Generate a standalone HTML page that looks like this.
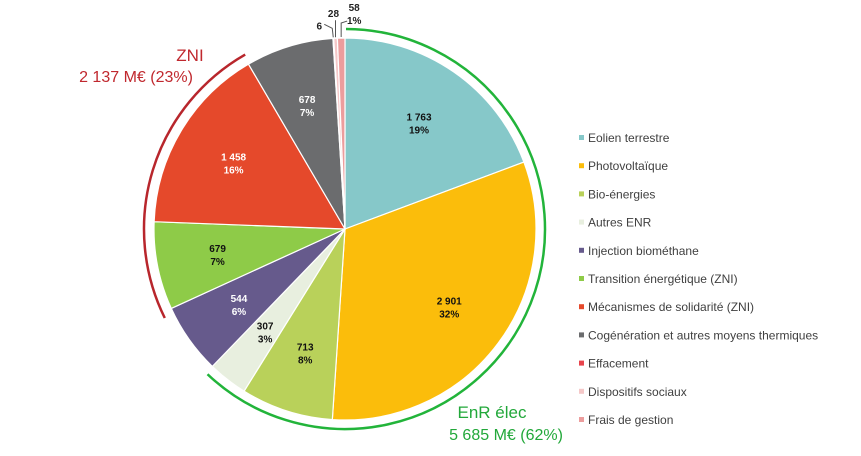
<!DOCTYPE html>
<html><head><meta charset="utf-8">
<style>
body{margin:0;background:#fff;}
svg{display:block;font-family:"Liberation Sans",Arial,sans-serif;}
.lbl{font-size:10px;font-weight:bold;text-anchor:middle;}
.leg{font-size:12px;fill:#404040;}
</style></head>
<body>
<svg id="chart" width="861" height="456" viewBox="0 0 861 456">
<g id="slices"></g>
<g id="labels"></g>
<g id="legend"></g>
<path id="enrArc" fill="none" stroke="#22b43a" stroke-width="2.5"/>
<path id="zniArc" fill="none" stroke="#b8262c" stroke-width="2.5"/>
<text x="190" y="61" font-size="17" fill="#c0282e" text-anchor="middle">ZNI</text>
<text x="136" y="82" font-size="16" fill="#c0282e" text-anchor="middle">2 137 M€ (23%)</text>
<text x="492" y="418" font-size="17" fill="#22a83a" text-anchor="middle">EnR  élec</text>
<text x="506" y="440" font-size="16" fill="#22a83a" text-anchor="middle">5 685 M€ (62%)</text>
</svg>
<script>
const categories=["Eolien terrestre","Photovoltaïque","Bio-énergies","Autres ENR","Injection biométhane","Transition énergétique (ZNI)","Mécanismes de solidarité (ZNI)","Cogénération et autres moyens thermiques","Effacement","Dispositifs sociaux","Frais de gestion"];
const values=[1763,2901,713,307,544,679,1458,678,6,28,58];
const percents=["19%","32%","8%","3%","6%","7%","16%","7%","","","1%"];
const valueLabels=["1 763","2 901","713","307","544","679","1 458","678","6","28","58"];
const colors=["#86c8c9","#fbbd0b","#b9d15a","#e8efdf","#665a8c","#8ecb48","#e5492b","#6b6c6e","#e8444c","#f5c8c8","#ec9d9d"];
const textColors=["#111","#111","#111","#111","#fff","#111","#fff","#fff","#111","#111","#111"];
const enrGroup=[0,3];
const zniGroup=[5,6];

const NS="http://www.w3.org/2000/svg";
const cx=345,cy=229,R=191;
const total=values.reduce((a,b)=>a+b,0);
function ang(v){return v/total*2*Math.PI;}
function pt(a,r){return [cx+r*Math.sin(a),cy-r*Math.cos(a)];}
function arcPath(a0,a1,r){const p0=pt(a0,r),p1=pt(a1,r);return `M${p0[0]},${p0[1]} A${r},${r} 0 ${a1-a0>Math.PI?1:0} 1 ${p1[0]},${p1[1]}`;}
const starts=[];let acc=0;
values.forEach(v=>{starts.push(acc);acc+=v;});
const sg=document.getElementById('slices'),lg=document.getElementById('labels'),leg=document.getElementById('legend');
const smallOffs={8:[-14,-8],9:[-2,-20],10:[13,-26]};
values.forEach((v,i)=>{
  const a0=ang(starts[i]),a1=ang(starts[i]+v);
  const p0=pt(a0,R),p1=pt(a1,R);
  const p=document.createElementNS(NS,'path');
  p.setAttribute('d',`M${cx},${cy} L${p0[0]},${p0[1]} A${R},${R} 0 ${a1-a0>Math.PI?1:0} 1 ${p1[0]},${p1[1]} Z`);
  p.setAttribute('fill',colors[i]);p.setAttribute('stroke','#fff');p.setAttribute('stroke-width','1.2');
  
  
  sg.appendChild(p);
  const am=(a0+a1)/2;
  if(v/total>0.02){
    const c=pt(am,R*0.68);
    const t=document.createElementNS(NS,'text');
    t.setAttribute('class','lbl');t.setAttribute('x',c[0]);t.setAttribute('y',c[1]-2);t.setAttribute('fill',textColors[i]);
    
    
    t.innerHTML=`<tspan x="${c[0]}">${valueLabels[i]}</tspan><tspan x="${c[0]}" dy="13">${percents[i]}</tspan>`;
    lg.appendChild(t);
  } else {
    const e=pt(am,R+1);
    const o=smallOffs[i]||[0,-15];
    const tx=e[0]+o[0], ty=e[1]+o[1];
    const l=document.createElementNS(NS,'polyline');
    let pts;
    if(i==8) pts=`${e[0]},${e[1]} ${e[0]-1},${ty-1} ${tx+5},${ty-5}`;
    else if(i==9) pts=`${e[0]},${e[1]} ${e[0]},${ty+3}`;
    else pts=`${e[0]},${e[1]} ${e[0]},${ty+12} ${tx-7},${ty+10}`;
    l.setAttribute('points',pts);
    l.setAttribute('fill','none');l.setAttribute('stroke','#555');l.setAttribute('stroke-width','1');
    
    
    lg.appendChild(l);
    const t=document.createElementNS(NS,'text');
    t.setAttribute('class','lbl');t.setAttribute('fill','#222');
    t.setAttribute('x',tx);t.setAttribute('y',ty);
    
    
    t.innerHTML=percents[i]?`<tspan x="${tx}">${valueLabels[i]}</tspan><tspan x="${tx}" dy="13">${percents[i]}</tspan>`:valueLabels[i];
    lg.appendChild(t);
  }
  const y=139+i*28.2;
  const r=document.createElementNS(NS,'rect');
  r.setAttribute('x',579);r.setAttribute('y',y-4);r.setAttribute('width',5);r.setAttribute('height',5);r.setAttribute('fill',colors[i]);
  
  
  leg.appendChild(r);
  const t=document.createElementNS(NS,'text');
  t.setAttribute('class','leg');t.setAttribute('x',588);t.setAttribute('y',y+3);t.textContent=categories[i];
  
  
  leg.appendChild(t);
});
const eA0=ang(starts[enrGroup[0]]),eA1=ang(starts[enrGroup[1]]+values[enrGroup[1]]);
document.getElementById('enrArc').setAttribute('d',arcPath(eA0+0.005,eA1-0.01,R+9));
const zA0=ang(starts[zniGroup[0]]),zA1=ang(starts[zniGroup[1]]+values[zniGroup[1]]);
document.getElementById('zniArc').setAttribute('d',arcPath(zA0-0.03,zA1+0.01,R+10));
</script>
</body></html>
